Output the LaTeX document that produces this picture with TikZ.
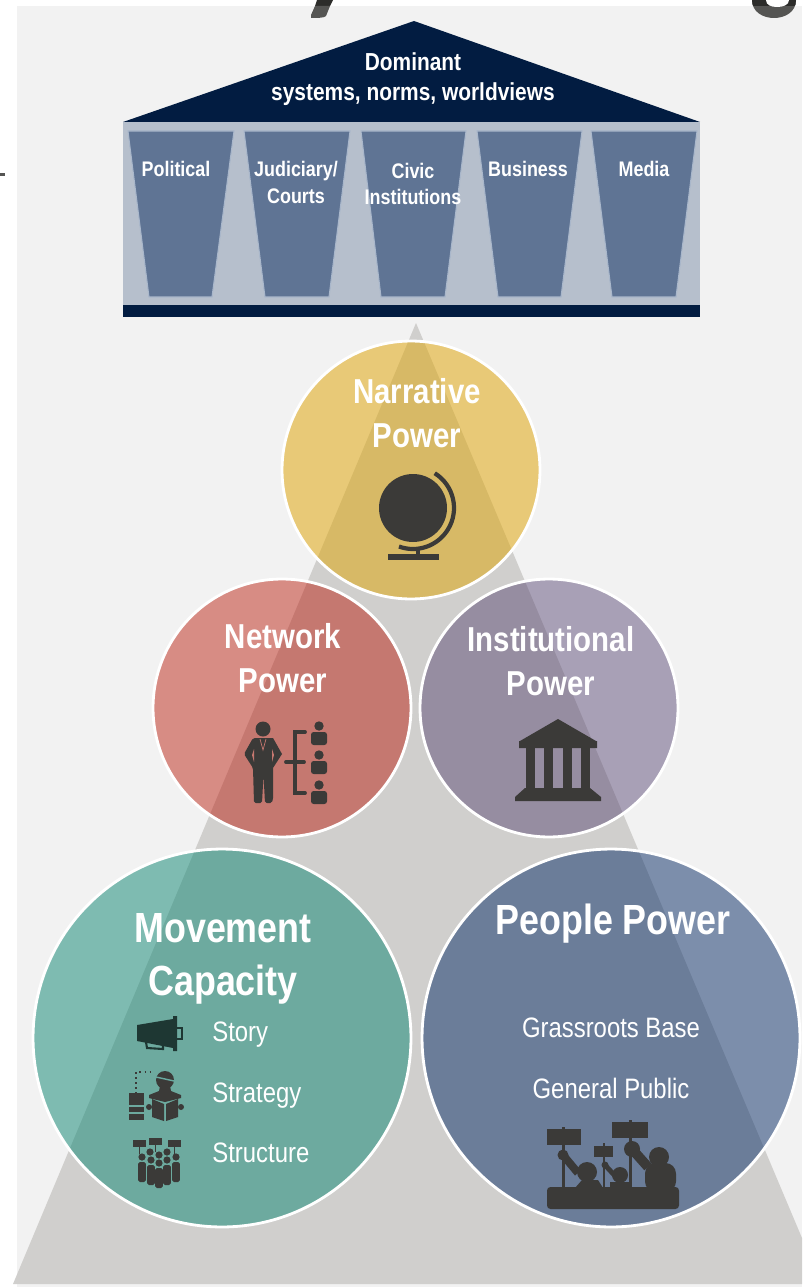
\documentclass[tikz,border=0pt]{standalone}
\usepackage{fontspec}
\setmainfont{Liberation Sans}[FakeStretch=0.85]
\definecolor{navy}{HTML}{021C41}
\definecolor{pillarbg}{HTML}{B6BFCC}
\definecolor{pillarfill}{HTML}{5F7494}
\definecolor{pillaredge}{HTML}{A9B7CB}
\definecolor{panelgrey}{HTML}{F2F2F2}
\definecolor{basegrey}{HTML}{D0CFCD}
\definecolor{icon}{HTML}{3B3A38}
\definecolor{letterdark}{HTML}{2C2C2A}
\definecolor{letterlight}{HTML}{555553}
\definecolor{megaphone}{RGB}{30,55,51}
\definecolor{narrativefill}{RGB}{223,165,8}
\definecolor{networkfill}{RGB}{184,16,0}
\definecolor{institutionfill}{RGB}{80,62,109}
\definecolor{movementfill}{RGB}{12,134,114}
\definecolor{peoplefill}{RGB}{8,44,102}
\definecolor{networkcut}{RGB}{198,120,112}
\definecolor{movementcut}{RGB}{105,169,160}
\tikzset{
  power/.style={circle, draw=white, line width=1.6pt, text opacity=1, inner sep=0pt},
  small/.style={power, fill opacity=0.45, minimum size=5.16cm},
  big/.style={power, fill opacity=0.5, minimum size=7.56cm},
  head/.style={white, anchor=base, inner sep=0pt, font=\bfseries\fontsize{14}{16}\selectfont},
  col/.style={white, anchor=base, inner sep=0pt, font=\bfseries\fontsize{12}{14}\selectfont},
  title/.style={white, anchor=base, inner sep=0pt, font=\bfseries\fontsize{19.7}{22}\selectfont},
  bigtitle/.style={white, anchor=base, inner sep=0pt, font=\bfseries\fontsize{24}{26}\selectfont},
  item/.style={white, anchor=base, inner sep=0pt, font=\fontsize{16}{18}\selectfont}
}
\begin{document}
\begin{tikzpicture}[x=0.02cm, y=-0.02cm]
\useasboundingbox (0,0) rectangle (802,1287);
% Panel and base triangle
\fill[panelgrey] (17,6) rectangle (802,1287);
\fill[basegrey] (416,323) -- (13,1284) -- (802,1284) -- (802,1238) -- cycle;
% Cut-off letters at the page edge
\fill[letterdark] (317,0) -- (333,0) -- (330,6) -- (315,6) -- cycle;
\fill[letterlight] (315,6) -- (330,6) -- (326,16) .. controls (325,18) and (316,18) .. (311,18) -- (311,15) -- cycle;
\fill[letterlight] (752,0) .. controls (752,12) and (763,18) .. (774,18) .. controls (785,18) and (796,12) .. (796,0) -- cycle;
\begin{scope}
\clip (740,0) rectangle (802,6);
\fill[letterdark] (752,0) .. controls (752,12) and (763,18) .. (774,18) .. controls (785,18) and (796,12) .. (796,0) -- cycle;
\end{scope}
\fill[white] (766,0) .. controls (766,5) and (771,7) .. (777,7) .. controls (783,7) and (789,5) .. (789,0) -- cycle;
\fill[letterlight] (0,173) rectangle (5,176);
% Temple
\fill[navy] (123,122) -- (414,21) -- (700,122) -- cycle;
\fill[pillarbg] (123,122) rectangle (700,305);
\fill[navy] (123,305) rectangle (700,317);
\foreach \a/\b/\c/\d in {128/234/149/212, 244/350/265/329, 361/466/381/445, 477/582/498/561, 591/697/612/676}
  \filldraw[fill=pillarfill, draw=pillaredge, line width=0.6pt] (\a,131) -- (\b,131) -- (\d,297) -- (\c,297) -- cycle;
\node[head] (dominant) at (413,71) {Dominant};
\node[head] (systems) at (413,101) {systems, norms, worldviews};
\node[col] (political) at (176,177) {Political};
\node[col] (judiciary) at (296,177) {Judiciary/};
\node[col] (courts) at (296,204) {Courts};
\node[col] (civic) at (413,179) {Civic};
\node[col] (institutions) at (413,205) {Institutions};
\node[col] (business) at (528,177) {Business};
\node[col] (media) at (644,177) {Media};
% Power circles
\node[small, fill=narrativefill, fill opacity=0.52] (narrative) at (411,470) {};
\node[small, fill=networkfill] (network) at (282,708) {};
\node[small, fill=institutionfill] (institutional) at (549,708) {};
\node[big, fill=movementfill] (movement) at (222,1038) {};
\node[big, fill=peoplefill] (people) at (611,1038) {};
% Circle labels
\node[title] (narrativeA) at (417,403) {Narrative};
\node[title] (narrativeB) at (417,447) {Power};
\node[title] (networkA) at (283,648) {Network};
\node[title] (networkB) at (283,692) {Power};
\node[title] (institutionalA) at (551,651) {Institutional};
\node[title] (institutionalB) at (551,695) {Power};
\node[bigtitle] (movementA) at (223,942) {Movement};
\node[bigtitle] (movementB) at (223,995) {Capacity};
\node[bigtitle] (peopleA) at (613,934) {People Power};
\node[item, anchor=base west] (story) at (212,1041) {Story};
\node[item, anchor=base west] (strategy) at (212,1102) {Strategy};
\node[item, anchor=base west] (structure) at (212,1162) {Structure};
\node[item] (grassroots) at (611,1037) {Grassroots Base};
\node[item] (general) at (611,1098) {General Public};
% Globe
\fill[icon] (413,508) circle[radius=34];
\draw[icon, line width=2.4pt] ({413+41*cos(-58)},{508+41*sin(-58)}) arc[start angle=-58, end angle=110, radius=41];
\fill[icon] (416,548) rectangle (420,555);
\fill[icon] (388,554) rectangle (439,560);
% Network icon
\fill[icon] (263,729) circle[radius=7.5];
\fill[icon] (253,738) -- (273,738) -- (282,754) -- (273,768) -- (273,798) [rounded corners=1pt] -- (272,803) -- (265,803) -- (263.5,775) -- (262,803) -- (254,803) -- (253,768) -- (244,754) -- cycle;
\fill[networkcut] (252,755) -- (254,749) -- (254,762) -- cycle;
\fill[networkcut] (274,755) -- (272,749) -- (272,762) -- cycle;
\draw[networkcut, line width=0.4pt] (260,739) -- (263,750) -- (266,739);
\draw[icon, line width=2.2pt, line cap=round] (305,732) -- (295,732) -- (295,793) -- (305,793);
\draw[icon, line width=2.2pt, line cap=round] (286,762) -- (304,762);
\foreach \y in {726,755,785} {
  \fill[icon] (319,\y) circle[radius=4.7];
  \fill[icon, rounded corners=1.5pt] (311,\y+6) rectangle (327,\y+19);
}
% Temple icon
\fill[icon] (558,719) -- (596,741) -- (597,741) -- (597,748) -- (519,748) -- (519,741) -- (520,741) -- cycle;
\foreach \x in {526,544,563,581}
  \fill[icon] (\x,748) rectangle (\x+9,788);
\fill[icon] (525,788) -- (590,788) -- (601,797) -- (601,801) -- (515,801) -- (515,797) -- cycle;
% Megaphone
\fill[megaphone] (137,1025) -- (173,1019) -- (173,1016) -- (177,1016) -- (177,1051) -- (173,1051) -- (173,1048) -- (137,1041) -- cycle;
\draw[megaphone, line width=1.2pt] (177,1028) -- (182,1028) -- (182,1039) -- (177,1039);
\draw[megaphone, line width=1.2pt] (146,1042) -- (147,1048) -- (163,1049) -- (163,1045);
% Reader
\draw[icon, line width=0.9pt, dotted] (136,1094) -- (136,1072) -- (153,1072);
\fill[icon] (129,1093) rectangle (144,1105);
\fill[icon] (129,1107) rectangle (144,1112);
\fill[icon] (129,1114) rectangle (144,1120);
\fill[icon] (165,1080) circle[radius=9];
\draw[movementcut, line width=0.8pt] (156,1077) -- (174,1081);
\fill[icon] (160,1086) -- (170,1086) -- (171,1091) -- (181,1095) -- (181,1098) -- (165,1102) -- (149,1098) -- (149,1095) -- (159,1091) -- cycle;
\fill[icon] (152,1099) -- (164,1104) -- (164,1121) -- (152,1117) -- cycle;
\fill[icon] (178,1099) -- (166,1104) -- (166,1121) -- (178,1117) -- cycle;
\fill[icon] (149,1107) circle[radius=3];
\fill[icon] (181,1107) circle[radius=3];
% Crowd
\foreach \x/\y in {133/1140, 149/1138, 168/1140} {
  \fill[icon] (\x,\y) rectangle (\x+12.5,\y+7);
  \fill[icon] (\x+6,\y+7) rectangle (\x+7,\y+14);
}
\foreach \x/\y in {142/1157, 150/1152, 167/1152, 176/1157, 159/1155, 151/1160, 167/1160, 159/1163} {
  \fill[icon] (\x,\y) circle[radius=3.6];
}
\foreach \x/\t/\b in {142/1162/1182, 176/1162/1182, 151/1165/1185, 167/1165/1185, 159/1168/1188} {
  \fill[icon, rounded corners=1pt] (\x-3.9,\t) rectangle (\x+3.9,\b);
}
% Protest
\fill[icon, rounded corners=2pt] (547,1187) rectangle (679,1209);
\fill[icon] (547,1129) rectangle (581,1145);
\fill[icon] (562,1127) rectangle (565,1188);
\fill[icon] (594,1146) rectangle (613,1157);
\fill[icon] (603,1143) rectangle (605,1188);
\fill[icon] (612,1122) rectangle (648,1138);
\fill[icon] (629,1120) rectangle (632,1188);
\fill[icon] (659,1157) circle[radius=10];
\fill[icon, rounded corners=6pt] (645,1163) rectangle (676,1192);
\draw[icon, line width=5.6pt] (632,1149) -- (648,1167);
\fill[icon] (632,1149) circle[radius=8];
\fill[icon] (620,1175) circle[radius=8];
\fill[icon] (610,1182) rectangle (630,1188);
\draw[icon, line width=2.8pt] (605,1165) -- (617,1178);
\fill[icon] (605,1165) circle[radius=3.5];
\fill[icon] (587,1172) circle[radius=10];
\fill[icon] (575,1188) -- (582,1180) -- (598,1180) -- (603,1188) -- cycle;
\draw[icon, line width=4.5pt] (563,1155) -- (578,1173);
\fill[icon] (563,1155) circle[radius=5.5];
\end{tikzpicture}
\end{document}
